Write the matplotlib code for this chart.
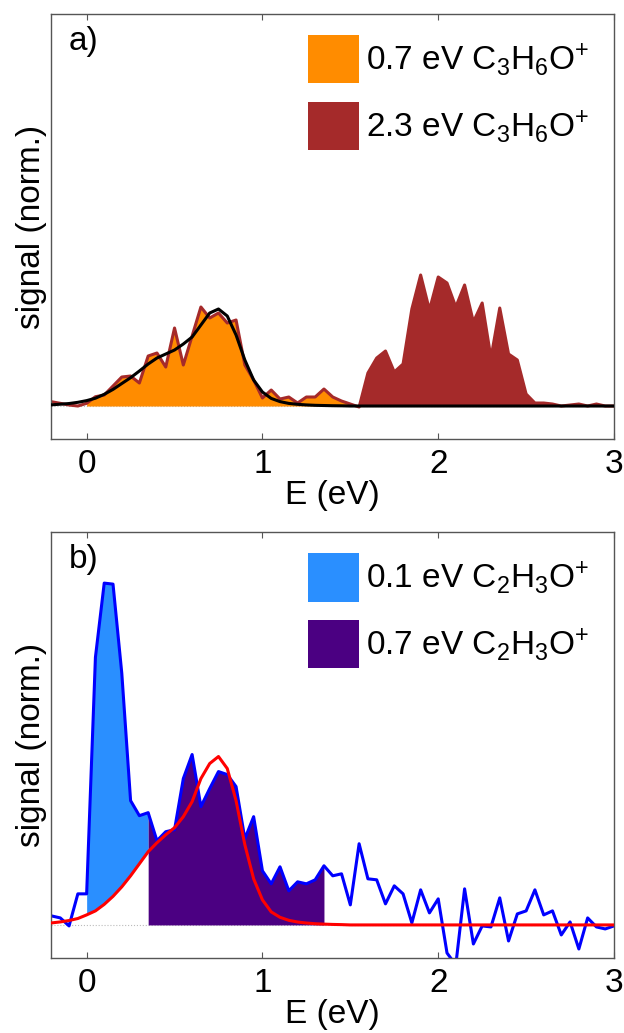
"""
Photoelectron energy spectra of C3H6O+ and C2H3O+ fragments (two stacked panels).
"""
import numpy as np
import matplotlib
matplotlib.use('Agg')
import matplotlib.pyplot as plt
from matplotlib.patches import Patch

plt.rcParams['font.family'] = ['Liberation Sans', 'DejaVu Sans']
plt.rcParams['mathtext.fontset'] = 'custom'
plt.rcParams['mathtext.rm'] = 'Liberation Sans'
plt.rcParams['mathtext.it'] = 'Liberation Sans:italic'

# energy axis (eV), 0.05 eV bins from -0.2 to 3.0
energy = np.linspace(-0.2, 3.0, 65)

# panel a: C3H6O+ signal and fit
sig_a = [4.3, 2.7, 1.0, 0.0, 2.7, 9.3, 11, 20, 29, 30,
         23, 50, 53, 39, 78, 41, 70, 99, 88, 93,
         83, 86, 41, 26, 8, 16, 7, 9, 3, 9,
         9, 17, 9, 5, 2, -1, 33, 48, 55, 34,
         42, 97, 131, 96, 129, 123, 99, 121, 84, 103,
         48, 98, 52, 46, 12, 3, 3, 2, 0, 1,
         2, 0, 2, 0, 0]
fit_a = [1.2, 1.8, 2.5, 3.7, 5.4, 7.8, 11.7, 16.6, 22.5, 28.3,
         35, 42, 48, 52, 56, 62, 69, 81, 93, 97,
         90, 71, 46, 26, 14, 7.6, 4.4, 2.6, 1.7, 1.1,
         0.7, 0.5, 0.3, 0.2] + [0.0] * 31

# panel b: C2H3O+ signal and fit
sig_b = [9, 7, -1, 31, 31, 267, 341, 340, 251, 124,
         109, 112, 84, 93, 95, 146, 170, 118, 136, 153,
         150, 138, 86, 108, 54, 41, 58, 34, 43, 41,
         45, 59, 49, 51, 20, 81, 46, 45, 21, 39,
         31, 2, 35, 12, 26, -28, -40, 36, -19, -1,
         -2, 27, -16, 11, 14, 35, 10, 14, -10, 3,
         -24, 7, -2, -4, -1]
fit_b = [2.0, 3.0, 4.4, 6.4, 10, 14, 20.5, 28.5, 38, 49,
         61, 73, 82, 90, 97, 108, 123, 146, 161, 168,
         156, 124, 80, 46, 25, 13, 7.6, 4.6, 2.9, 1.9,
         1.2, 0.8, 0.5, 0.3] + [0.0] * 31

labels_a = [r'0.7 eV C$_{\mathrm{3}}$H$_{\mathrm{6}}$O$^{\mathrm{+}}$',
            r'2.3 eV C$_{\mathrm{3}}$H$_{\mathrm{6}}$O$^{\mathrm{+}}$']
labels_b = [r'0.1 eV C$_{\mathrm{2}}$H$_{\mathrm{3}}$O$^{\mathrm{+}}$',
            r'0.7 eV C$_{\mathrm{2}}$H$_{\mathrm{3}}$O$^{\mathrm{+}}$']
colors_a = ['#FF8C00', '#A52A2A']
colors_b = ['#2A8FFF', '#4B0082']

sig_a = np.array(sig_a)
fit_a = np.array(fit_a)
sig_b = np.array(sig_b)
fit_b = np.array(fit_b)
eps = 1e-6

FS = 24
GREY = '#555555'


def style(ax, tag, labels, colors):
    ax.set_xlim(-0.2, 3.0)
    ax.set_ylim(-33, 392)
    ax.set_xticks([0, 1, 2, 3])
    ax.set_yticks([])
    ax.tick_params(axis='x', direction='in', top=True, length=4, width=0.8,
                   color=GREY, labelsize=FS, pad=7)
    for s in ax.spines.values():
        s.set_color(GREY)
        s.set_linewidth(1)
    ax.set_xlabel('E (eV)', fontsize=FS, labelpad=0)
    ax.set_ylabel('signal (norm.)', fontsize=FS, labelpad=3)
    ax.text(0.031, 0.915, tag, transform=ax.transAxes, fontsize=FS, va='baseline')
    ax.axhline(0, color='#bbbbbb', lw=0.8, ls=':', zorder=0)
    handles = [Patch(facecolor=c, edgecolor='none') for c in colors]
    ax.legend(handles, labels, loc='upper left', bbox_to_anchor=(0.456, 0.95),
              frameon=False, fontsize=FS, handlelength=1.53, handleheight=1.85,
              handletextpad=0.2, labelspacing=0.55, borderpad=0, borderaxespad=0)


fig = plt.figure(figsize=(6.24, 10.33), dpi=100)
ax_a = fig.add_axes([0.0825, 0.575, 0.9015, 0.4115])
ax_b = fig.add_axes([0.0825, 0.0726, 0.9015, 0.4124])

# panel a
ax_a.fill_between(energy, 0, sig_a, where=(energy > -eps) & (energy < 1.5 + eps),
                  color=colors_a[0], lw=0, zorder=1)
ax_a.fill_between(energy, 0, sig_a, where=(energy > 1.55 - eps),
                  color=colors_a[1], lw=0, zorder=1)
ax_a.plot(energy, sig_a, color=colors_a[1], lw=2.2, zorder=2)
ax_a.plot(energy, fit_a, color='black', lw=2.2, zorder=3)
style(ax_a, 'a)', labels_a, colors_a)

# panel b
ax_b.fill_between(energy, fit_b, sig_b, where=(energy > -eps) & (energy < 0.35 + eps),
                  color=colors_b[0], lw=0, zorder=1)
ax_b.fill_between(energy, 0, sig_b, where=(energy > 0.35 - eps) & (energy < 1.35 + eps),
                  color=colors_b[1], lw=0, zorder=1)
ax_b.plot(energy, sig_b, color='#0000FF', lw=2.2, zorder=2)
ax_b.plot(energy, fit_b, color='#FF0000', lw=2.2, zorder=3)
style(ax_b, 'b)', labels_b, colors_b)

fig.savefig('out.png', dpi=100)
